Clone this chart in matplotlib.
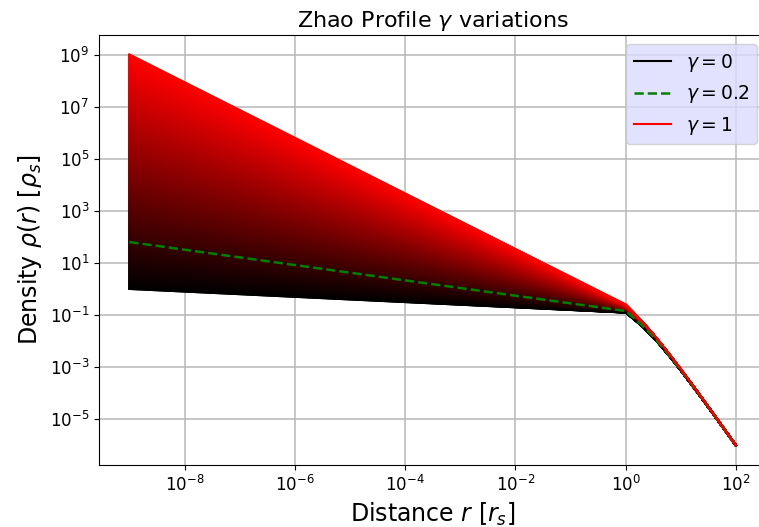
import numpy as np
import matplotlib
matplotlib.use('Agg')
import matplotlib.pyplot as plt

# sampled radii [r_s] and density [rho_s] for the limiting inner slopes
radius = [1e-9, 1.01, 2.02, 3.03, 4.04, 6.06, 10.1, 20.2, 40.4, 70.7, 100.0]
rho_gamma0 = [1.0, 0.1231, 0.0363, 0.01528, 0.00781, 0.002842,
              7.31e-4, 1.05e-4, 1.41e-5, 2.71e-6, 9.71e-7]
rho_gamma02 = [63.1, 0.1413, 0.03936, 0.01617, 0.00816, 0.002931,
               7.45e-4, 1.058e-4, 1.415e-5, 2.72e-6, 9.72e-7]
rho_gamma1 = [1e9, 0.2451, 0.05428, 0.02032, 0.009745, 0.003311,
              8.04e-4, 1.102e-4, 1.444e-5, 2.751e-6, 9.80e-7]

# inner slopes swept between the two limiting profiles
gammas = np.linspace(0, 1, 400)

fig = plt.figure(figsize=(7.59, 5.27), dpi=100)
ax = fig.add_axes([0.1305, 0.1176, 0.879, 0.8160])

log0 = np.log10(rho_gamma0)
log1 = np.log10(rho_gamma1)
for g in gammas:
    rho = 10 ** ((1 - g) * log0 + g * log1)
    ax.plot(radius, rho, color=(g, 0, 0), lw=1.5)

ax.plot(radius, rho_gamma0, color='black', lw=1.5, label=r'$\gamma = 0$')
ax.plot(radius, rho_gamma02, color='green', ls='--', lw=1.8, label=r'$\gamma = 0.2$')
ax.plot(radius, rho_gamma1, color='red', lw=1.5, label=r'$\gamma = 1$')

ax.set_xscale('log')
ax.set_yscale('log')
ax.set_xticks([1e-8, 1e-6, 1e-4, 1e-2, 1e0, 1e2])
ax.set_yticks([1e9, 1e7, 1e5, 1e3, 1e1, 1e-1, 1e-3, 1e-5])
ax.minorticks_off()
ax.tick_params(labelsize=12)
ax.grid(True, color='#b8b8b8', lw=1.1)

ax.set_title(r'Zhao Profile $\gamma$ variations', fontsize=16)
ax.set_xlabel(r'Distance $r$ $[r_s]$', fontsize=17)
ax.set_ylabel(r'Density $\rho(r)$ $[\rho_s]$', fontsize=17)

leg = ax.legend(loc='upper right', fontsize=13.5, facecolor=(0.86, 0.86, 1.0),
                framealpha=0.8)

fig.savefig('out.png', dpi=100)
